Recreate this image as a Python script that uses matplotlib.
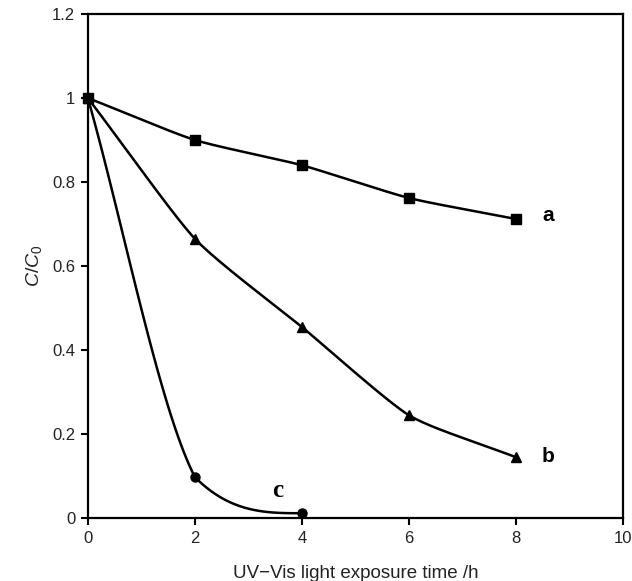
import numpy as np
import matplotlib
matplotlib.use("Agg")
import matplotlib.pyplot as plt

# exposure time (h) and C/C0 for the three samples
time_a = [0, 2, 4, 6, 8]
conc_a = [1.0, 0.90, 0.84, 0.762, 0.712]
time_b = [0, 2, 4, 6, 8]
conc_b = [1.0, 0.665, 0.455, 0.245, 0.145]
time_c = [0, 2, 4]
conc_c = [1.0, 0.098, 0.012]


# smoothed line through the points (bezier, control points kept
# between neighbouring values so it does not overshoot)
def smooth(xs, ys, k=1 / 6, flat_end=False, n=40):
    p = np.column_stack([xs, ys]).astype(float)
    out = [p[0]]
    for i in range(len(p) - 1):
        p0, p3 = p[i], p[i + 1]
        lo, hi = min(p0[1], p3[1]), max(p0[1], p3[1])
        if i == 0:
            b1 = p0 + (p3 - p0) / 3
        else:
            b1 = p0 + (p3 - p[i - 1]) * k
        if i == len(p) - 2:
            b2 = p3 - (p3 - p0) / 3
            if flat_end:
                b2[1] = p3[1]
        else:
            b2 = p3 - (p[i + 2] - p0) * k
        b1[1] = np.clip(b1[1], lo, hi)
        b2[1] = np.clip(b2[1], lo, hi)
        t = np.linspace(0, 1, n)[1:, None]
        seg = (1 - t) ** 3 * p0 + 3 * (1 - t) ** 2 * t * b1 + 3 * (1 - t) * t ** 2 * b2 + t ** 3 * p3
        out.extend(seg)
    out = np.array(out)
    return out[:, 0], out[:, 1]


plt.rcParams['font.family'] = ['Liberation Sans', 'DejaVu Sans']
plt.rcParams['mathtext.fontset'] = 'custom'
plt.rcParams['mathtext.it'] = 'Liberation Sans:italic'
plt.rcParams['mathtext.rm'] = 'Liberation Sans'
fig = plt.figure(figsize=(6.32, 5.81), dpi=100)
ax = fig.add_axes([0.139, 0.108, 0.847, 0.868])

series = [(time_a, conc_a, 's', 7, 1 / 10, False), (time_b, conc_b, '^', 7.5, 1 / 10, False),
          (time_c, conc_c, 'o', 6.5, 1 / 6, True)]
for xs, ys, mk, ms, k, fe in series:
    sx, sy = smooth(xs, ys, k, fe)
    ax.plot(sx, sy, color='black', lw=1.8, zorder=3)
    ax.plot(xs, ys, linestyle='none', marker=mk, ms=ms, color='black', zorder=4, clip_on=False)

ax.text(8.6, 0.72, 'a', fontsize=15, fontweight='bold', ha='center', va='center')
ax.text(8.6, 0.148, 'b', fontsize=15, fontweight='bold', ha='center', va='center')
ax.text(3.54, 0.067, 'c', fontsize=18, fontweight='bold', ha='center', va='center',
        family=['Liberation Serif', 'DejaVu Serif'])

ax.set_xlim(0, 10)
ax.set_ylim(0, 1.2)
ax.set_xticks([0, 2, 4, 6, 8, 10])
ax.set_xticklabels(['0', '2', '4', '6', '8', '10'])
ax.set_yticks([0, 0.2, 0.4, 0.6, 0.8, 1.0, 1.2])
ax.set_yticklabels(['0', '0.2', '0.4', '0.6', '0.8', '1', '1.2'])
ax.tick_params(direction='out', length=5, width=1.5, labelsize=12, pad=4, labelcolor='#222222')
for s in ax.spines.values():
    s.set_linewidth(1.6)
ax.set_xlabel('UV\u2212Vis light exposure time /h', fontsize=13.5, labelpad=14, color='#222222')
ax.set_ylabel('$C/C_0$', fontsize=14, labelpad=6, color='#222222')

fig.savefig('out.png', dpi=100)
